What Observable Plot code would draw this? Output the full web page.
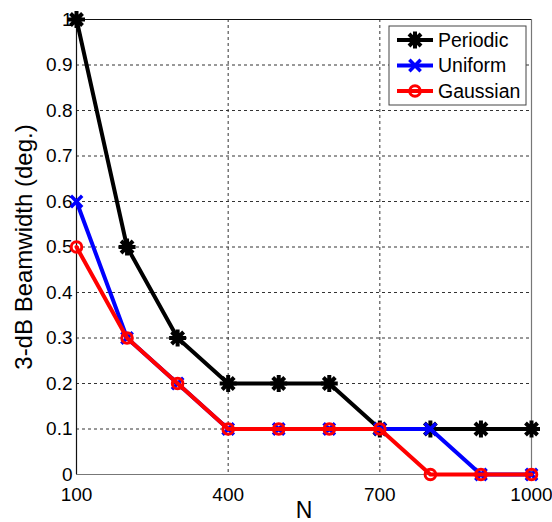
<!DOCTYPE html>
<html><head><meta charset="utf-8">
<script src="https://cdn.jsdelivr.net/npm/d3@7"></script>
<script src="https://cdn.jsdelivr.net/npm/@observablehq/plot@0.6"></script>
<style>body{margin:0;background:#fff;} #chart{width:552px;height:522px;}</style>
</head><body><div id="chart"></div>
<script>
// ---- data ----
const N = [100, 200, 300, 400, 500, 600, 700, 800, 900, 1000];
const periodic = [1.0, 0.5, 0.3, 0.2, 0.2, 0.2, 0.1, 0.1, 0.1, 0.1];
const uniform  = [0.6, 0.3, 0.2, 0.1, 0.1, 0.1, 0.1, 0.1, 0.0, 0.0];
const gaussian = [0.5, 0.3, 0.2, 0.1, 0.1, 0.1, 0.1, 0.0, 0.0, 0.0];
const seriesNames = ["Periodic", "Uniform", "Gaussian"];
const seriesColors = ["#000000", "#0000ff", "#ff0000"];
const xTicks = [100, 400, 700, 1000];
const yTicks = [0, 0.1, 0.2, 0.3, 0.4, 0.5, 0.6, 0.7, 0.8, 0.9, 1];
const xGrid = [400, 700];
const yGrid = [0.1, 0.2, 0.3, 0.4, 0.5, 0.6, 0.7, 0.8, 0.9];
const xLabel = "N";
const yLabel = "3-dB Beamwidth (deg.)";

// ---- symbols ----
const asterisk = {draw(ctx, size) {
  const r = Math.sqrt(size / Math.PI), d = r * Math.SQRT1_2;
  ctx.moveTo(-r, 0); ctx.lineTo(r, 0);
  ctx.moveTo(0, -r); ctx.lineTo(0, r);
  ctx.moveTo(-d, -d); ctx.lineTo(d, d);
  ctx.moveTo(-d, d); ctx.lineTo(d, -d);
}};
const cross = {draw(ctx, size) {
  const r = Math.sqrt(size / Math.PI), d = r * Math.SQRT1_2;
  ctx.moveTo(-d, -d); ctx.lineTo(d, d);
  ctx.moveTo(-d, d); ctx.lineTo(d, -d);
}};
const ring = {draw(ctx, size) {
  const r = Math.sqrt(size / Math.PI);
  ctx.moveTo(r, 0); ctx.arc(0, 0, r, 0, 2 * Math.PI);
}};
const seriesSymbols = [asterisk, cross, ring];
const seriesR = [8.5, 8, 5.3];
const seriesSW = [4, 3.5, 3];
const seriesValues = [periodic, uniform, gaussian];

const font = "'Liberation Sans', Arial, Helvetica, sans-serif";

const seriesMarks = seriesNames.flatMap((name, i) => {
  const rows = N.map((n, j) => ({N: n, v: seriesValues[i][j]}));
  return [
    Plot.line(rows, {x: "N", y: "v", stroke: seriesColors[i], strokeWidth: 4, strokeLinejoin: "round"}),
    Plot.dot(rows, {x: "N", y: "v", symbol: seriesSymbols[i], r: seriesR[i], stroke: seriesColors[i], strokeWidth: seriesSW[i], fill: "none"})
  ];
});

const legend = (index, scales, values, dim) => {
  const g = d3.create("svg:g");
  const right = dim.width - dim.marginRight - 5;
  const top = dim.marginTop + 7;
  const w = 137, h = 79;
  const x0 = right - w;
  g.append("rect").attr("x", x0).attr("y", top).attr("width", w).attr("height", h)
    .attr("fill", "#fff").attr("stroke", "#444").attr("stroke-width", 1);
  seriesNames.forEach((name, i) => {
    const cy = top + 14 + i * 25.5;
    g.append("line").attr("x1", x0 + 8).attr("x2", x0 + 44).attr("y1", cy).attr("y2", cy)
      .attr("stroke", seriesColors[i]).attr("stroke-width", 4);
    g.append("path").attr("transform", `translate(${x0 + 26},${cy})`)
      .attr("d", d3.symbol(seriesSymbols[i], Math.PI * seriesR[i] * seriesR[i])())
      .attr("fill", "none").attr("stroke", seriesColors[i]).attr("stroke-width", seriesSW[i]);
    g.append("text").attr("x", x0 + 49).attr("y", cy).attr("dy", "0.35em")
      .attr("text-anchor", "start")
      .attr("font-size", 19.5).attr("font-family", font).attr("fill", "#000").text(name);
  });
  return g.node();
};

const chart = Plot.plot({
  width: 552, height: 522,
  marginLeft: 76, marginRight: 21, marginTop: 19, marginBottom: 48,
  style: {fontFamily: font, fontSize: "19px", color: "#000", background: "#fff", overflow: "visible"},
  x: {domain: [100, 1000]},
  y: {domain: [0, 1]},
  marks: [
    Plot.gridX(xGrid, {stroke: "#333", strokeOpacity: 1, strokeDasharray: "3,3", strokeWidth: 1}),
    Plot.gridY(yGrid, {stroke: "#333", strokeOpacity: 1, strokeDasharray: "3,3", strokeWidth: 1}),
    Plot.ruleY([0], {stroke: "#777", strokeWidth: 1.2}),
    Plot.ruleX([1000], {stroke: "#777", strokeWidth: 1.2}),
    Plot.ruleY([1], {stroke: "#111", strokeWidth: 1.2}),
    Plot.ruleX([100], {stroke: "#111", strokeWidth: 1.2}),
    Plot.axisX(xTicks, {tickSize: 0, tickPadding: 13, fontSize: 19, label: null, tickFormat: d => String(d)}),
    Plot.axisY(yTicks, {tickSize: 0, tickPadding: 4, fontSize: 19, label: null, tickFormat: d => String(d)}),
    Plot.text([xLabel], {frameAnchor: "bottom", dy: 36.5, fontSize: 23, lineAnchor: "middle", textAnchor: "middle", fill: "#000"}),
    Plot.text([yLabel], {frameAnchor: "left", dx: -52.5, rotate: -90, fontSize: 24, lineAnchor: "middle", textAnchor: "middle", fill: "#000"}),
    ...seriesMarks,
    legend
  ]
});
document.getElementById("chart").appendChild(chart);
</script>
</body></html>
